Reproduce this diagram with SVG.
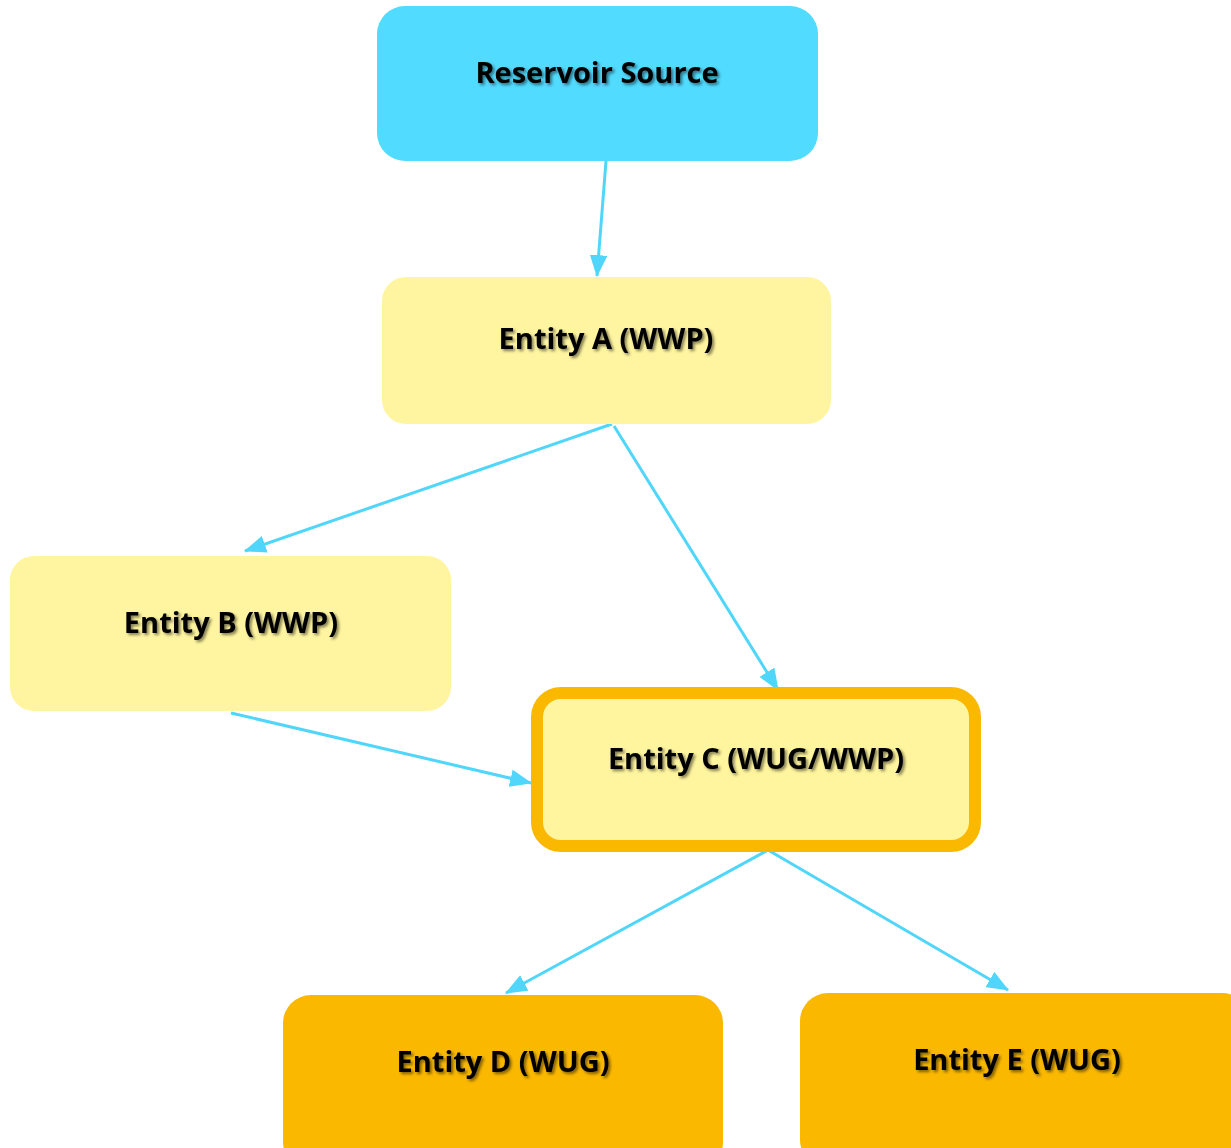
<svg xmlns="http://www.w3.org/2000/svg" width="1231" height="1148" viewBox="0 0 1231 1148">
<defs>
<style>
.lbl{font-family:"Open Sans","Liberation Sans",sans-serif;font-weight:bold;font-size:29px;fill:#000;text-anchor:middle;dominant-baseline:central;filter:url(#sh)}
.conn{stroke:#50D6FA;stroke-width:3;fill:none;marker-end:url(#ah)}
</style>
<filter id="sh" x="-10%" y="-30%" width="120%" height="160%">
<feGaussianBlur in="SourceAlpha" stdDeviation="1.5"/>
<feOffset dx="1.5" dy="2" result="b"/>
<feComponentTransfer><feFuncA type="linear" slope="0.5"/></feComponentTransfer>
<feMerge><feMergeNode/><feMergeNode in="SourceGraphic"/></feMerge>
</filter>
<marker id="ah" viewBox="0 0 20 16" refX="19" refY="8" markerWidth="22" markerHeight="18" markerUnits="userSpaceOnUse" orient="auto">
<path d="M0,0 L20,8 L0,16 Z" fill="#50D6FA"/>
</marker>
</defs>
<rect width="1231" height="1148" fill="#fff"/>
<g id="connectors">
<line class="conn" x1="606" y1="161" x2="597" y2="276"/>
<line class="conn" x1="612" y1="424" x2="245" y2="551"/>
<line class="conn" x1="614" y1="426" x2="778" y2="690"/>
<line class="conn" x1="231" y1="713" x2="531" y2="783"/>
<line class="conn" x1="768" y1="850" x2="506" y2="993"/>
<line class="conn" x1="768" y1="850" x2="1008" y2="990"/>
</g>
<g id="reservoir">
<rect x="377" y="6" width="441" height="155" rx="28" fill="#50DBFF"/>
<text class="lbl" x="597" y="71">Reservoir Source</text>
</g>
<g id="entityA">
<rect x="382" y="277" width="449" height="147" rx="24" fill="#FFF5A0"/>
<text class="lbl" x="606" y="337">Entity A (WWP)</text>
</g>
<g id="entityB">
<rect x="10" y="556" width="441" height="155" rx="24" fill="#FFF5A0"/>
<text class="lbl" x="231" y="621">Entity B (WWP)</text>
</g>
<g id="entityC">
<rect x="537" y="693" width="438" height="153" rx="24" fill="#FFF59E" stroke="#FBB800" stroke-width="12"/>
<text class="lbl" x="756" y="757">Entity C (WUG/WWP)</text>
</g>
<g id="entityD">
<rect x="283" y="995" width="440" height="175" rx="28" fill="#FBB800"/>
<text class="lbl" x="503" y="1060">Entity D (WUG)</text>
</g>
<g id="entityE">
<rect x="800" y="993" width="450" height="175" rx="28" fill="#FBB800"/>
<text class="lbl" x="1017" y="1058">Entity E (WUG)</text>
</g>
</svg>
